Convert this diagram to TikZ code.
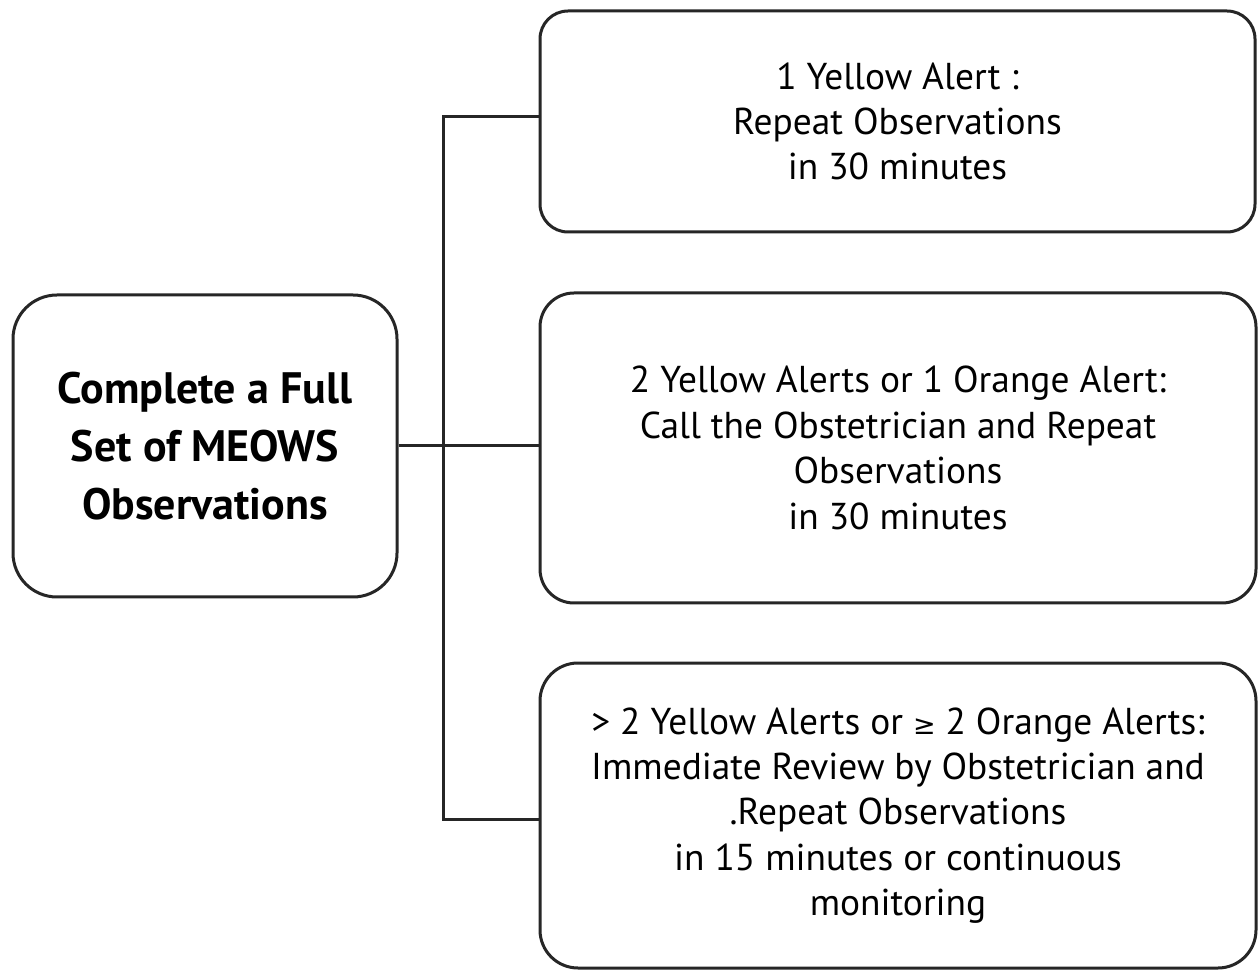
\documentclass[tikz,border=0pt]{standalone}
\usepackage{fontspec}
\setmainfont{PT Sans}
\newfontfamily\symfont{DejaVu Sans}
\begin{document}
\begin{tikzpicture}[x=0.5pt,y=-0.5pt,
  box/.style={draw=black!85, line width=1.5pt, align=center, inner sep=0pt},
  txt/.style={font=\fontsize{18.7pt}{22.7pt}\selectfont},
  btxt/.style={font=\fontsize{22pt}{29pt}\selectfont\bfseries},
  link/.style={draw=black!85, line width=1.5pt}]
\useasboundingbox[fill=white] (0,0) rectangle (1258,972);
\node[box, btxt, rounded corners=22pt, minimum width=192pt, minimum height=151pt] (L) at (205,446)
  {Complete a Full\\Set of MEOWS\\Observations};
\node[box, txt, rounded corners=14pt, minimum width=357.5pt, minimum height=110.5pt] (A) at (897.5,121.5)
  {1 Yellow Alert :\\Repeat Observations\\in 30 minutes};
\node[box, txt, rounded corners=17pt, minimum width=358pt, minimum height=155pt] (B) at (898,448)
  {2 Yellow Alerts or 1 Orange Alert:\\Call the Obstetrician and Repeat\\Observations\\in 30 minutes};
\node[box, txt, rounded corners=19pt, minimum width=358pt, minimum height=152.5pt] (C) at (898,815.5)
  {> 2 Yellow Alerts or {\symfont\fontsize{13.5pt}{13.5pt}\selectfont ≥} 2 Orange Alerts:\\Immediate Review by Obstetrician and\\.Repeat Observations\\in 15 minutes or continuous\\monitoring};
\coordinate (tA) at (443,117);
\coordinate (tC) at (443,819);
\draw[link] (L.east) -- (L.east -| B.west);
\draw[link] (tA -| A.west) -- (tA) -- (tC) -- (tC -| C.west);
\end{tikzpicture}
\end{document}
